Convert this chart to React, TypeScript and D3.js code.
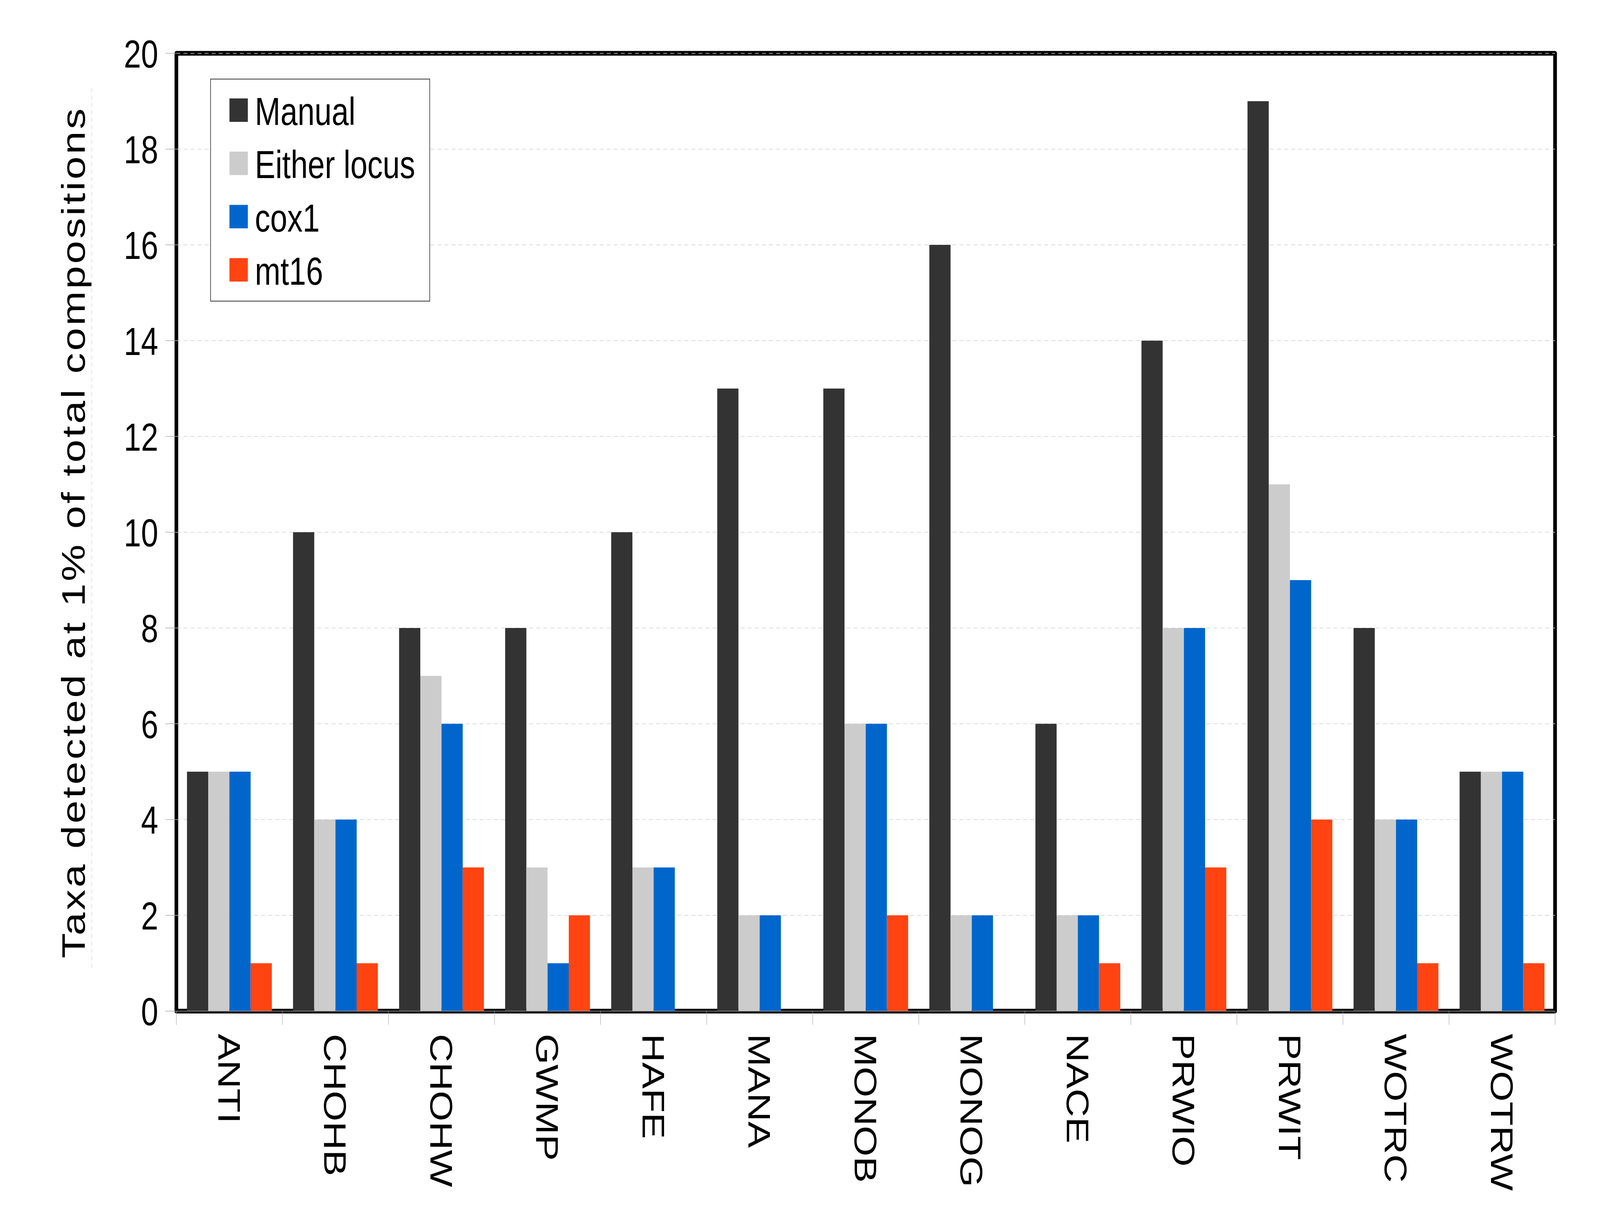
import React, { useEffect } from 'react';
import * as d3 from 'd3';

// sample sites on the x axis
const sites = ['ANTI', 'CHOHB', 'CHOHW', 'GWMP', 'HAFE', 'MANA', 'MONOB', 'MONOG', 'NACE', 'PRWIO', 'PRWIT', 'WOTRC', 'WOTRW'];

// one series per detection method
const seriesNames = ['Manual', 'Either locus', 'cox1', 'mt16'];
const manual = [5, 10, 8, 8, 10, 13, 13, 16, 6, 14, 19, 8, 5];
const eitherLocus = [5, 4, 7, 3, 3, 2, 6, 2, 2, 8, 11, 4, 5];
const cox1 = [5, 4, 6, 1, 3, 2, 6, 2, 2, 8, 9, 4, 5];
const mt16 = [1, 1, 3, 2, 0, 0, 2, 0, 1, 3, 4, 1, 1];
const seriesValues = [manual, eitherLocus, cox1, mt16];
const seriesColors = ['#333333', '#cccccc', '#0066cc', '#ff4411'];

const yTicks = [0, 2, 4, 6, 8, 10, 12, 14, 16, 18, 20];

const W = 5216;
const H = 3152;
const FONT = '"Liberation Sans", Arial, Helvetica, sans-serif';

const left = 575;
const right = 5069.5;
const top = 136.5;
const bottom = 2589;

const App: React.FC = () => {
  useEffect(() => {
    // page has a default margin; keep the chart flush with the viewport
    document.body.style.margin = '0';
    document.body.style.overflow = 'hidden';
    document.documentElement.style.overflow = 'hidden';
  }, []);

  const x = d3.scaleBand<string>().domain(sites).range([left, right]);
  const xInner = d3.scaleBand<string>()
    .domain(seriesNames)
    .range([0, x.bandwidth()])
    .paddingInner(0)
    .paddingOuter(0.5);
  const y = d3.scaleLinear().domain([0, 20]).range([bottom, top]);

  const bars = sites.flatMap((site, i) =>
    seriesNames.map((name, s) => ({ site, name, value: seriesValues[s][i], color: seriesColors[s] }))
  );

  // band edges for the x ticks
  const xEdges = [...sites.map(s => x(s) as number), right];

  return (
    <svg viewBox={`0 0 ${W} ${H}`} preserveAspectRatio="none"
      style={{ position: 'absolute', left: 0, top: 0, width: '100vw', height: '100vh', display: 'block', background: '#fff' }}>
      <rect x={0} y={0} width={W} height={H} fill="#fff" />

      {/* faint dashed guide next to the axis title */}
      <line x1={299} x2={299} y1={225} y2={2485} stroke="#dddddd" strokeWidth={2} strokeDasharray="11,8" />

      {/* plot frame */}
      <rect x={left} y={top} width={right - left} height={bottom - top}
        fill="none" stroke="#000" strokeWidth={12} strokeLinejoin="round" />

      {/* grid lines */}
      {yTicks.filter(t => t > 0).map(t => (
        <line key={'g' + t} x1={left} x2={right} y1={y(t)} y2={y(t)}
          stroke="#cfcfcf" strokeWidth={1.5} strokeDasharray="13,10" />
      ))}

      {/* bars */}
      {bars.map(b => (
        <rect key={b.site + b.name}
          x={(x(b.site) as number) + (xInner(b.name) as number)}
          y={y(b.value)}
          width={xInner.bandwidth()}
          height={bottom - y(b.value)}
          fill={b.color} />
      ))}

      {/* x axis line and ticks */}
      <line x1={left} x2={right} y1={bottom} y2={bottom} stroke="#aaaaaa" strokeWidth={1.5} />
      {xEdges.map((e, i) => (
        <line key={'xt' + i} x1={e} x2={e} y1={bottom} y2={bottom + 35} stroke="#aaaaaa" strokeWidth={1.5} />
      ))}

      {/* x labels */}
      {sites.map(s => (
        <text key={'xl' + s}
          transform={`translate(${(x(s) as number) + x.bandwidth() / 2},${2647}) rotate(90)`}
          dy="0.36em" fontFamily={FONT} fontSize={101} fill="#000">
          {s}
        </text>
      ))}

      {/* y ticks and labels */}
      {yTicks.map(t => (
        <g key={'yt' + t}>
          <line x1={539} x2={left} y1={y(t)} y2={y(t)} stroke="#aaaaaa" strokeWidth={1.5} />
          <text x={516} y={y(t)} dy="0.36em" textAnchor="end" fontFamily={FONT} fontSize={101} fill="#000">
            {t}
          </text>
        </g>
      ))}

      {/* y axis title */}
      <text transform={`translate(238,1363) rotate(-90)`} textAnchor="middle" dy="0.36em"
        fontFamily={FONT} fontSize={106} letterSpacing={5.5} fill="#000">
        Taxa detected at 1% of total compositions
      </text>

      {/* legend */}
      <g>
        <rect x={686.5} y={202.5} width={714.5} height={568.5} fill="#fff" stroke="#333" strokeWidth={2} />
        {seriesNames.map((name, i) => (
          <g key={'lg' + name} transform={`translate(0,${i * 136.3})`}>
            <rect x={748} y={252} width={60} height={60} fill={seriesColors[i]} />
            <text x={831} y={320} fontFamily={FONT} fontSize={100} fill="#000">{name}</text>
          </g>
        ))}
      </g>
    </svg>
  );
};

export default App;
